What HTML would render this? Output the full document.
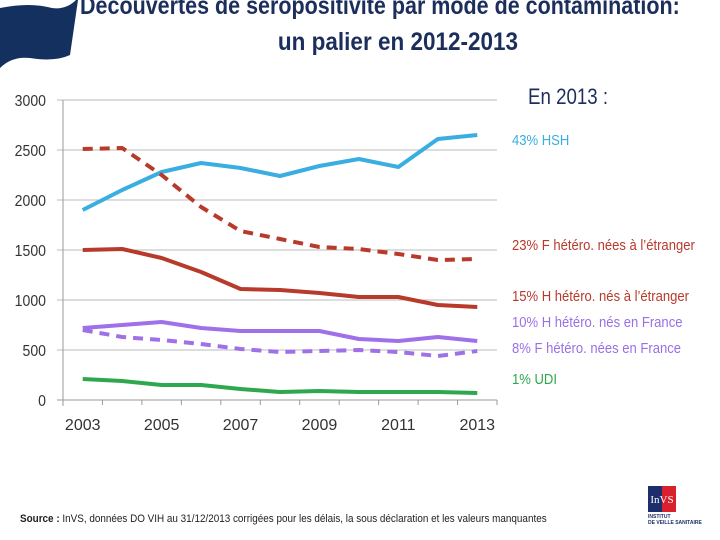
<!DOCTYPE html>
<html><head><meta charset="utf-8"><style>
body{margin:0;width:720px;height:540px;background:#fff;overflow:hidden;font-family:"Liberation Sans",sans-serif;position:relative}
.t{position:absolute;text-align:center;color:#1c2f5c;font-weight:bold;font-size:25px;transform:scaleX(0.9);white-space:nowrap}
.lg{position:absolute;left:512px;font-size:14.5px;transform:scaleX(0.9);transform-origin:left;white-space:nowrap}
</style></head><body>
<svg style="position:absolute;left:0;top:0" width="80" height="70"><path d="M0,8 Q30,2 52,8 Q66,10 76,0 L78,0 L70,55 Q55,62 30,58 Q12,56 0,68 Z" fill="#14305f"/></svg>
<div class="t" style="top:-8px;left:80px;text-align:left;transform-origin:left;transform:scaleX(0.86)">Découvertes de séropositivité par mode de contamination:</div>
<div class="t" style="top:28px;left:40px;width:716px">un palier en 2012-2013</div>
<div style="position:absolute;left:528px;top:84px;font-size:22px;color:#1c2f5c;transform:scaleX(0.85);transform-origin:left">En 2013 :</div>
<div class="lg" style="top:133px;color:#3aaee0">43% HSH</div>
<div class="lg" style="top:238px;color:#b83a2b">23% F hétéro. nées à l’étranger</div>
<div class="lg" style="top:289px;color:#b83a2b">15% H hétéro. nés à l’étranger</div>
<div class="lg" style="top:315px;color:#9b6fe6">10% H hétéro. nés en France</div>
<div class="lg" style="top:341px;color:#9b6fe6">8% F hétéro. nées en France</div>
<div class="lg" style="top:372px;color:#2ea84e">1% UDI</div>
<svg id="c" style="position:absolute;left:0;top:0" width="720" height="540"></svg>
<div style="position:absolute;left:20px;top:513px;font-size:11px;color:#222;transform:scaleX(0.9);transform-origin:left;white-space:nowrap"><b>Source :</b> InVS, données DO VIH au 31/12/2013 corrigées pour les délais, la sous déclaration et les valeurs manquantes</div>
<div style="position:absolute;left:648px;top:486px;width:28px;height:26px;background:linear-gradient(90deg,#1c2f6c 50%,#d8202f 50%);color:#fff;font-size:11px;font-family:'Liberation Serif',serif;text-align:center;line-height:28px">InVS</div>
<div style="position:absolute;left:648px;top:514px;font-size:5px;color:#1c2f6c;font-weight:bold;line-height:6px">INSTITUT<br>DE VEILLE SANITAIRE</div>
<script>
const years=["2003","2004","2005","2006","2007","2008","2009","2010","2011","2012","2013"];
const yTicks=[0,500,1000,1500,2000,2500,3000];
const hsh=[1900,2100,2280,2370,2320,2240,2340,2410,2330,2610,2650];
const fHeteroEtr=[2510,2520,2250,1930,1690,1610,1530,1510,1460,1400,1410];
const hHeteroEtr=[1500,1510,1420,1280,1110,1100,1070,1030,1030,950,930];
const hHeteroFr=[720,750,780,720,690,690,690,610,590,630,590];
const fHeteroFr=[700,630,600,560,510,480,490,500,480,440,490];
const udi=[210,190,150,150,110,80,90,80,80,80,70];
const svg=document.getElementById('c');const NS='http://www.w3.org/2000/svg';
const x0=63,x1=497,y0=400,y1=100;
const step=(x1-x0)/years.length;
const X=i=>x0+step*(i+0.5);
const Y=v=>y0-(v/3000)*(y0-y1);
function el(t,a){const e=document.createElementNS(NS,t);for(const k in a)e.setAttribute(k,a[k]);svg.appendChild(e);return e;}
yTicks.forEach(v=>{
 const l=el('line',{x1:x0-6,x2:x1,y1:Y(v),y2:Y(v),stroke:v?'#bbb':'#999','stroke-width':1});
 
 
 const t=el('text',{x:46,y:Y(v)+6,'text-anchor':'end','font-size':16,fill:'#333','font-family':'Liberation Sans,sans-serif',transform:`translate(${46*0.12},0) scale(0.88,1)`});
 t.textContent=v;
 
 
});
const ax=el('line',{x1:x0,x2:x0,y1:y1,y2:y0+6,stroke:'#999'});


for(let i=0;i<=years.length;i++){const tk=el('line',{x1:x0+step*i,x2:x0+step*i,y1:y0,y2:y0+5,stroke:'#999'});
 
 }
years.forEach((yv,i)=>{if(i%2)return;
 const t=el('text',{x:X(i),y:430,'text-anchor':'middle','font-size':16,fill:'#333','font-family':'Liberation Sans,sans-serif'});
 t.textContent=yv;
 
 });
const series=[[hsh,'#3aaee0',null,'series-hsh'],[fHeteroEtr,'#b83a2b','10 7','series-f-hetero-etranger'],[hHeteroEtr,'#b83a2b',null,'series-h-hetero-etranger'],[hHeteroFr,'#a070e8',null,'series-h-hetero-france'],[fHeteroFr,'#a070e8','10 7','series-f-hetero-france'],[udi,'#2ea84e',null,'series-udi']];
series.forEach(([d,c,dash,n])=>{
 const p=el('polyline',{points:d.map((v,i)=>X(i)+','+Y(v)).join(' '),fill:'none',stroke:c,'stroke-width':4,'stroke-linejoin':'round'});
 if(dash)p.setAttribute('stroke-dasharray',dash);
 
 
});
</script>
</body></html>
